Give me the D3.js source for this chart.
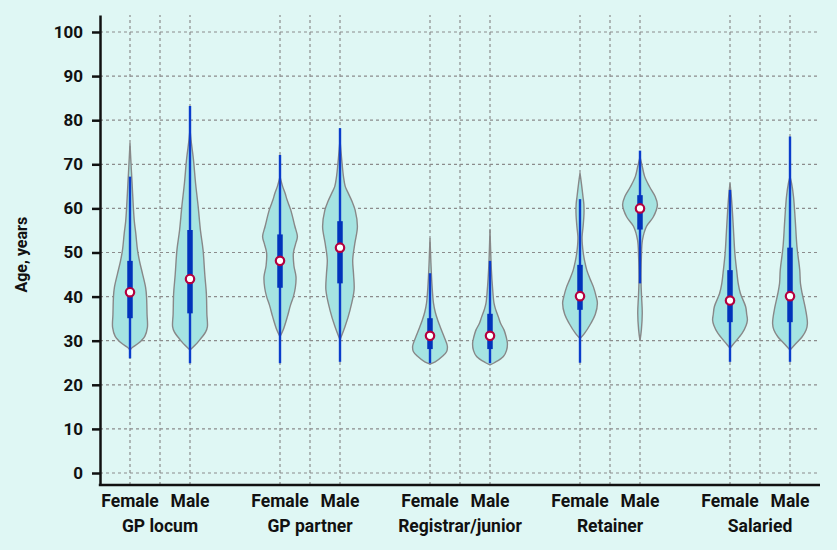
<!DOCTYPE html>
<html>
<head>
<meta charset="utf-8">
<script src="https://cdn.jsdelivr.net/npm/d3@7"></script>
<style>
  html, body { margin: 0; padding: 0; background: #DFF7F4; }
  svg { display: block; font-family: Roboto, "DejaVu Sans", sans-serif; }
</style>
</head>
<body>
<svg id="chart" width="837" height="550"></svg>
<script>
// ---------- DATA ----------
const groups = ["GP locum", "GP partner", "Registrar/junior", "Retainer", "Salaried"];
const sexes = ["Female", "Male"];
const yTicks = [0, 10, 20, 30, 40, 50, 60, 70, 80, 90, 100];

// box-plot summaries [whiskerLow, q1, median, q3, whiskerHigh], order: group x sex
const locumF = [26, 35.1, 41, 48.1, 67.2];
const locumM = [24.9, 36.2, 44, 55.1, 83.2];
const partnerF = [24.9, 42, 48.1, 54.1, 72.1];
const partnerM = [25.2, 43, 51.1, 57.1, 78.2];
const registrarF = [24.9, 28.1, 31.1, 35.1, 45.3];
const registrarM = [24.9, 28.1, 31.1, 36.1, 48.1];
const retainerF = [25, 37, 40.1, 47.2, 62.1];
const retainerM = [43, 55.2, 60, 63, 73.1];
const salariedF = [25.2, 34.2, 39.1, 46, 64.2];
const salariedM = [25.2, 34.2, 40.1, 51.1, 76.3];

// density profiles: [age, relative density]
const locumFDens = [[27.9,0],[28.5,0.15],[29.4,0.48],[31,0.85],[33,1.0],[36,0.98],[40,0.95],[42,0.9],[45,0.73],[48,0.55],[50.6,0.43],[54.4,0.33],[57,0.25],[60.4,0.19],[65.7,0.12],[70,0.06],[74.8,0]];
const locumMDens = [[27.9,0],[29,0.3],[30.2,0.56],[32,0.9],[33.2,1.0],[36,0.97],[40.7,0.94],[45,0.85],[50.6,0.75],[55,0.6],[60.4,0.47],[65.7,0.32],[71,0.2],[75.5,0.06],[78,0]];
const partnerFDens = [[30.9,0],[32.4,0.18],[35.4,0.42],[38,0.6],[40,0.77],[42,0.88],[44.5,0.92],[47,0.8],[49.9,0.77],[52,0.9],[53.6,1.0],[56,0.85],[59.6,0.62],[62,0.4],[63.5,0.29],[65,0.15],[67.2,0]];
const partnerMDens = [[30.2,0],[33.2,0.29],[37,0.58],[41.5,0.81],[45,0.78],[48.3,0.73],[52,0.85],[55.9,1.0],[59.6,0.87],[61.5,0.7],[63.4,0.48],[65,0.3],[67.2,0.2],[71,0.1],[75.5,0]];
const registrarFDens = [[24.7,0],[25.2,0.3],[26.4,0.7],[27.5,0.95],[28.7,1.0],[30,0.9],[31,0.8],[33,0.6],[34.7,0.44],[36.5,0.3],[38.5,0.2],[42.3,0.12],[46,0.07],[50,0.03],[53.2,0]];
const registrarMDens = [[24.5,0],[25,0.25],[26.4,0.77],[27.8,0.95],[29.4,1.0],[31,0.92],[32.4,0.81],[34,0.6],[35.4,0.48],[37,0.33],[38.5,0.23],[42.3,0.14],[46,0.08],[50,0.04],[55.2,0]];
const retainerFDens = [[30.5,0],[31.6,0.25],[33.9,0.62],[36,0.88],[38.5,1.0],[40,0.93],[42.2,0.77],[44,0.58],[46,0.39],[48,0.27],[49.8,0.19],[52,0.13],[53.6,0.12],[56,0.18],[58.9,0.23],[61,0.22],[62.7,0.17],[65.7,0.08],[68,0]];
const retainerMDens = [[30,0],[32.5,0.08],[36.3,0.13],[40,0.09],[43,0.06],[46,0.06],[49,0.08],[52.8,0.14],[55.9,0.37],[58.1,0.77],[60.8,1.0],[62.7,0.87],[64.9,0.55],[67.2,0.27],[69.5,0.13],[71.7,0]];
const salariedFDens = [[28.3,0],[29.5,0.25],[31.7,0.7],[33.5,0.93],[34.7,1.0],[36,0.96],[37.7,0.9],[40.7,0.6],[43,0.47],[45.3,0.4],[49.8,0.28],[55.1,0.2],[60.4,0.12],[63,0.07],[65.7,0]];
const salariedMDens = [[27.9,0],[29.2,0.3],[30.9,0.7],[32.5,0.93],[33.9,1.0],[37,0.9],[40.7,0.7],[43,0.6],[46,0.56],[51.3,0.4],[57.4,0.3],[62.7,0.2],[65.7,0.09],[67.2,0]];

const boxes = [[locumF, locumM], [partnerF, partnerM], [registrarF, registrarM], [retainerF, retainerM], [salariedF, salariedM]];
const densities = [[locumFDens, locumMDens], [partnerFDens, partnerMDens], [registrarFDens, registrarMDens], [retainerFDens, retainerMDens], [salariedFDens, salariedMDens]];

// ---------- LAYOUT ----------
const svg = d3.select("#chart");
const x = d3.scaleLinear().domain([0, 24]).range([100, 820]);
const y = d3.scaleLinear().domain([-2.72, 103.85]).range([485, 15]);
const w = d3.scaleLinear().domain([0, 1]).range([0, 17.4]);
const pos = (gi, si) => 1 + 5 * gi + 2 * si;

const gridColor = "#8c8c8c";

// horizontal grid
svg.append("g").selectAll("line").data(yTicks).join("line")
  .attr("x1", x(0)).attr("x2", x(24))
  .attr("y1", d => y(d)).attr("y2", d => y(d))
  .attr("stroke", gridColor).attr("stroke-width", 1.2).attr("stroke-dasharray", "3,3");

// vertical grid
const vGrid = [];
groups.forEach((g, gi) => { vGrid.push(1 + 5 * gi, 2 + 5 * gi, 3 + 5 * gi); });
svg.append("g").selectAll("line").data(vGrid).join("line")
  .attr("x1", d => x(d)).attr("x2", d => x(d))
  .attr("y1", y.range()[0]).attr("y2", y.range()[1])
  .attr("stroke", gridColor).attr("stroke-width", 1.2).attr("stroke-dasharray", "3,3");

// violins
const items = [];
groups.forEach((g, gi) => sexes.forEach((s, si) => items.push({ gi, si, dens: densities[gi][si], box: boxes[gi][si] })));

const area = d3.area()
  .curve(d3.curveCatmullRom.alpha(0.5))
  .y(d => y(d[0]))
  .x0(d => -w(d[1]))
  .x1(d => w(d[1]));

const vg = svg.append("g").selectAll("g").data(items).join("g")
  .attr("transform", d => `translate(${x(pos(d.gi, d.si))},0)`);

vg.append("path")
  .attr("d", d => area(d.dens))
  .attr("fill", "#A6E4E2")
  .attr("stroke", "#888888")
  .attr("stroke-width", 1.4);

// whiskers
vg.append("line")
  .attr("x1", 0).attr("x2", 0)
  .attr("y1", d => y(d.box[0])).attr("y2", d => y(d.box[4]))
  .attr("stroke", "#0A3CCB").attr("stroke-width", 2.4);

// IQR boxes
vg.append("line")
  .attr("x1", 0).attr("x2", 0)
  .attr("y1", d => y(d.box[1])).attr("y2", d => y(d.box[3]))
  .attr("stroke", "#0033BB").attr("stroke-width", 5.5);

// medians
vg.append("circle")
  .attr("cx", 0).attr("cy", d => y(d.box[2]))
  .attr("r", 4.2)
  .attr("fill", "#ffffff")
  .attr("stroke", "#B5003E").attr("stroke-width", 2.2);

// y axis
const yAxis = d3.axisLeft(y).tickValues(yTicks).tickSize(8).tickPadding(9).tickSizeOuter(0);
const ya = svg.append("g").attr("transform", `translate(${x(0)},0)`).call(yAxis);
ya.select(".domain").attr("stroke", "#111").attr("stroke-width", 2.5);
ya.selectAll(".tick line").attr("stroke", "#111").attr("stroke-width", 2.5);
ya.selectAll(".tick text").attr("fill", "#111").attr("font-size", "17px").attr("font-weight", 700)
  .attr("font-family", "Roboto, sans-serif");

// x axis line
svg.append("line")
  .attr("x1", x(0) - 1.2).attr("x2", x(24))
  .attr("y1", y.range()[0]).attr("y2", y.range()[0])
  .attr("stroke", "#111").attr("stroke-width", 2.5);

// x labels
svg.append("g").selectAll("text").data(items).join("text")
  .attr("x", d => x(pos(d.gi, d.si)))
  .attr("y", 507)
  .attr("text-anchor", "middle")
  .attr("font-size", "17.5px").attr("font-weight", 700).attr("fill", "#111")
  .text(d => sexes[d.si]);

svg.append("g").selectAll("text").data(groups).join("text")
  .attr("x", (d, gi) => x(2 + 5 * gi))
  .attr("y", 532)
  .attr("text-anchor", "middle")
  .attr("font-size", "17.5px").attr("font-weight", 700).attr("fill", "#111")
  .text(d => d);

// y title
svg.append("text")
  .attr("transform", `translate(27,${y(49.5)}) rotate(-90)`)
  .attr("text-anchor", "middle")
  .attr("font-size", "16px").attr("font-weight", 700).attr("fill", "#111")
  .text("Age, years");
</script>
</body>
</html>
